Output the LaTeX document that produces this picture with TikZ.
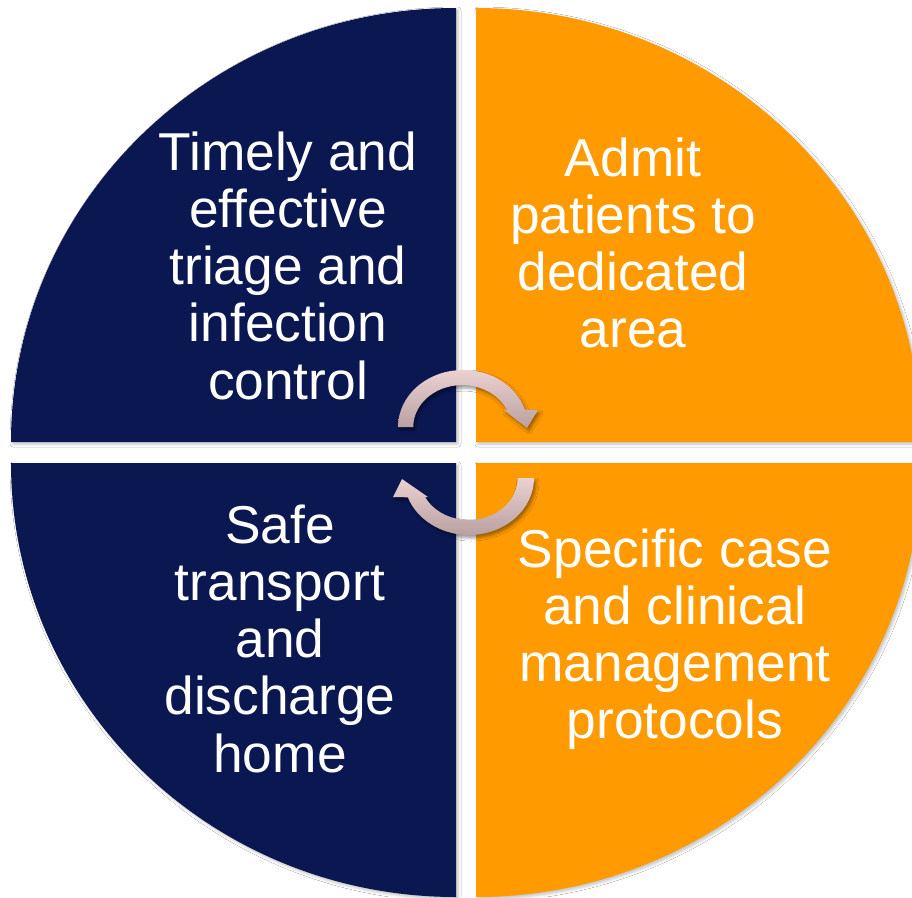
\documentclass[tikz,border=0pt]{standalone}
\usepackage{fontspec}
\setmainfont{Liberation Sans}
\usetikzlibrary{shadows.blur}
\definecolor{navy}{HTML}{0B1750}
\definecolor{amber}{HTML}{FF9A00}
\definecolor{arrowtop}{HTML}{EBD1D1}
\definecolor{arrowbot}{HTML}{B9A0A1}
\begin{document}
\begin{tikzpicture}[x=1pt,y=-1pt,
  quadrant/.style={blur shadow={shadow xshift=2pt,shadow yshift=-2pt,
      shadow blur radius=3pt,shadow opacity=25}},
  % the base anchor of a multi-line caption sits on its last line
  quadtext/.style={text=white,align=center,inner sep=0pt,anchor=base,
      font=\fontsize{53.3}{57.3}\selectfont},
  cyclearrow/.style={top color=arrowtop,bottom color=arrowbot,
      blur shadow={shadow xshift=2pt,shadow yshift=-3pt,
      shadow blur radius=3pt,shadow opacity=40}}]
\useasboundingbox[fill=white] (0,0) rectangle (912,897);

% four quarter discs around a cross-shaped gap
\fill[navy,quadrant] (456,442) -- (11,442)
  arc[start angle=180,end angle=270,x radius=445,y radius=434] -- cycle;
\fill[amber,quadrant] (476,442) -- (476,8)
  arc[start angle=270,end angle=360,x radius=445,y radius=434] -- cycle;
\fill[navy,quadrant] (456,463) -- (456,897)
  arc[start angle=90,end angle=180,x radius=445,y radius=434] -- cycle;
\fill[amber,quadrant] (476,463) -- (921,463)
  arc[start angle=0,end angle=90,x radius=445,y radius=434] -- cycle;

% quadrant captions
\node[quadtext] (triage) at (288,399.2)
  {Timely and\\effective\\triage and\\infection\\control};
\node[quadtext] (admit) at (633,347.9)
  {Admit\\patients to\\dedicated\\area};
\node[quadtext] (transport) at (280,772.2)
  {Safe\\transport\\and\\discharge\\home};
\node[quadtext] (protocols) at (675,738.9)
  {Specific case\\and clinical\\management\\protocols};

% circular arrows in the middle
\path[cyclearrow] (398,427)
  arc[start angle=180,end angle=342.3,x radius=65,y radius=57]
  -- (538,410) -- (527,428) -- (504,410) -- (507,410)
  arc[start angle=336,end angle=180,x radius=49,y radius=42] -- cycle;
\path[cyclearrow] (534,478)
  arc[start angle=0,end angle=160.2,x radius=65,y radius=57]
  -- (393,497) -- (402,479) -- (428,497) -- (425,497)
  arc[start angle=153.1,end angle=0,x radius=49,y radius=42] -- cycle;
\end{tikzpicture}
\end{document}
